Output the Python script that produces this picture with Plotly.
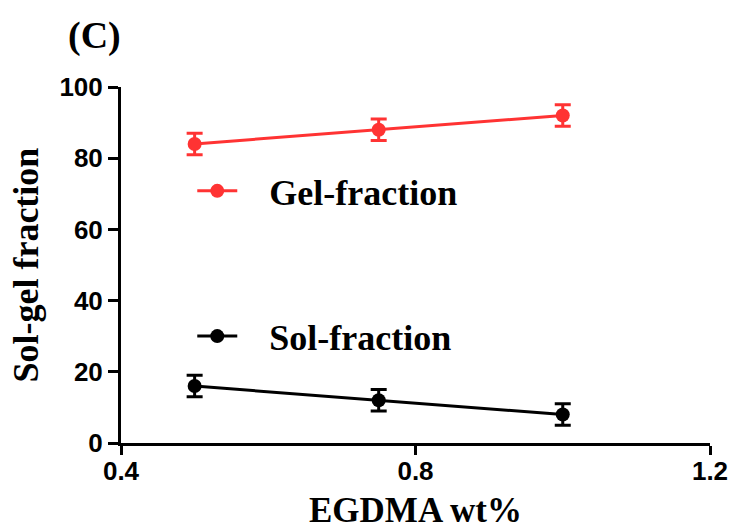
import plotly.graph_objects as go

x_vals = [0.5, 0.75, 1.0]
gel_vals = [84, 88, 92]
gel_err = [3, 3, 3]
sol_vals = [16, 12, 8]
sol_err = [3, 3, 3]
x_ticks = [0.4, 0.8, 1.2]
y_ticks = [0, 20, 40, 60, 80, 100]

serif = "Liberation Serif, Times New Roman, serif"
sans = "Liberation Sans, Arial, sans-serif"
red = "#ff3333"

fig = go.Figure()
fig.add_trace(go.Scatter(
    x=x_vals, y=gel_vals, name="\u00a0\u00a0\u00a0Gel-fraction", mode="lines+markers",
    line=dict(color=red, width=3),
    marker=dict(color=red, size=14),
    error_y=dict(type="data", array=gel_err, color=red, thickness=3, width=8),
    legend="legend", showlegend=True, cliponaxis=False,
))
fig.add_trace(go.Scatter(
    x=x_vals, y=sol_vals, name="\u00a0\u00a0\u00a0Sol-fraction", mode="lines+markers",
    line=dict(color="black", width=3),
    marker=dict(color="black", size=14),
    error_y=dict(type="data", array=sol_err, color="black", thickness=3, width=8),
    legend="legend2", showlegend=True, cliponaxis=False,
))

legend_common = dict(font=dict(family=serif, size=36, color="black", weight="bold"),
                     bgcolor="rgba(0,0,0,0)", itemwidth=40, visible=True,
                     xanchor="left", yanchor="middle")

fig.update_layout(
    width=734, height=529,
    margin=dict(l=121, r=24, t=87, b=86),
    plot_bgcolor="white", paper_bgcolor="white",
    showlegend=True,
    legend=dict(x=0.121, y=0.708, **legend_common),
    legend2=dict(x=0.121, y=0.3, **legend_common),
    xaxis=dict(range=[0.4, 1.2], tickvals=x_ticks, ticktext=[f"{v:.1f}" for v in x_ticks],
               automargin=False,
               showgrid=False, zeroline=False, showline=True, linecolor="black", linewidth=3,
               ticks="outside", ticklen=9, tickwidth=3, tickcolor="black",
               ticklabelstandoff=-6,
               tickfont=dict(family=sans, size=26, color="black", weight="bold")),
    yaxis=dict(range=[0, 100], tickvals=y_ticks,
               automargin=False,
               showgrid=False, zeroline=False, showline=True, linecolor="black", linewidth=3,
               ticks="outside", ticklen=10, tickwidth=3, tickcolor="black",
               tickfont=dict(family=sans, size=26, color="black", weight="bold")),
    annotations=[
        dict(text="(C)", xref="paper", yref="paper", x=-0.045, y=1.145,
             xanchor="center", yanchor="middle", showarrow=False,
             font=dict(family=serif, size=38, color="black", weight="bold")),
        dict(text="EGDMA wt%", xref="paper", yref="paper", x=0.5, y=-0.19,
             xanchor="center", yanchor="middle", showarrow=False,
             font=dict(family=serif, size=35, color="black", weight="bold")),
        dict(text="Sol-gel fraction", xref="paper", yref="paper", x=-0.162, y=0.5,
             xanchor="center", yanchor="middle", showarrow=False, textangle=-90,
             font=dict(family=serif, size=36, color="black", weight="bold")),
    ],
)

fig.write_html("out.html", config={"displayModeBar": False})

with open("out.html", "r", encoding="utf-8") as f:
    html = f.read()
html = html.replace("<head>", "<head><style>html,body{margin:0;padding:0;overflow:hidden;}</style>", 1)
with open("out.html", "w", encoding="utf-8") as f:
    f.write(html)
